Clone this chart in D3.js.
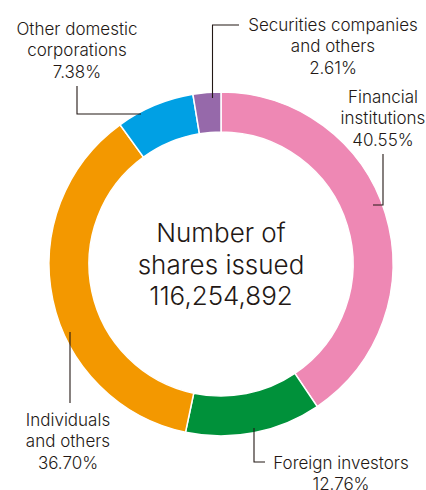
<!DOCTYPE html>
<html>
<head>
<meta charset="utf-8">
<script src="https://cdn.jsdelivr.net/npm/d3@7"></script>
<style>
  html, body { margin: 0; padding: 0; background: #fff; }
  svg text { font-family: "Inter", "Liberation Sans", sans-serif; font-weight: 300; fill: #231815; }
</style>
</head>
<body>
<div id="chart"></div>
<script>
const WIDTH = 426;
const HEIGHT = 490;
const CX = 221;
const CY = 264;
const OUTER_R = 172;
const INNER_R = 132;

// shareholder composition, clockwise from 12 o'clock
const categories = ["Financial institutions", "Foreign investors", "Individuals and others", "Other domestic corporations", "Securities companies and others"];
const shares = [40.55, 12.76, 36.70, 7.38, 2.61];
const colors = ["#ee88b4", "#00913a", "#f39800", "#00a0e4", "#9669aa"];
const labelLines = [
  ["Financial", "institutions", "40.55%"],
  ["Foreign investors", "12.76%"],
  ["Individuals", "and others", "36.70%"],
  ["Other domestic", "corporations", "7.38%"],
  ["Securities companies", "and others", "2.61%"]
];
const centerLines = ["Number of", "shares issued", "116,254,892"];

// hand placed label spots + leader elbows
const labelLayout = [
  { x: 383, y: 97,  leader: [[383, 154], [383, 205], [373, 205]] },
  { x: 341, y: 463, leader: [[254, 428], [254, 462], [265, 462]] },
  { x: 68,  y: 420, leader: [[70, 332], [70, 403]] },
  { x: 77,  y: 29,  leader: [[77, 86], [77, 114], [141, 114]] },
  { x: 333, y: 25,  leader: [[239, 25], [212.5, 25], [212.5, 98]] }
];

const data = categories.map((c, i) => ({ name: c, value: shares[i], color: colors[i], lines: labelLines[i], layout: labelLayout[i] }));

const svg = d3.select("#chart")
  .append("svg")
  .attr("width", WIDTH)
  .attr("height", HEIGHT);

const pie = d3.pie()
  .value(d => d.value)
  .sort(null);

const arc = d3.arc()
  .innerRadius(INNER_R)
  .outerRadius(OUTER_R);

const ring = svg.append("g")
  .attr("transform", `translate(${CX},${CY})`);

ring.selectAll("path")
  .data(pie(data))
  .enter()
  .append("path")
  .attr("d", arc)
  .attr("fill", d => d.data.color)
  .attr("stroke", "#fff")
  .attr("stroke-width", 1.5);

// leader lines
const line = d3.line();
svg.selectAll(".leader")
  .data(data)
  .enter()
  .append("path")
  .attr("class", "leader")
  .attr("d", d => line(d.layout.leader))
  .attr("fill", "none")
  .attr("stroke", "#231815")
  .attr("stroke-width", 1.1);

// labels
const LABEL_LH = 21.5;
svg.selectAll(".label")
  .data(data)
  .enter()
  .append("text")
  .attr("class", "label")
  .attr("text-anchor", "middle")
  .attr("font-size", "17px")
  .each(function(d) {
    const t = d3.select(this);
    d.lines.forEach((s, i) => {
      t.append("tspan")
        .attr("x", d.layout.x)
        .attr("y", d.layout.y + i * LABEL_LH)
        .attr("dy", "0.35em")
        .text(s);
    });
  });

// center text
svg.append("text")
  .attr("text-anchor", "middle")
  .attr("font-size", "26px")
  .selectAll("tspan")
  .data(centerLines)
  .enter()
  .append("tspan")
  .attr("x", CX)
  .attr("y", (d, i) => 242 + i * 31.5)
  .text(d => d);
</script>
</body>
</html>
